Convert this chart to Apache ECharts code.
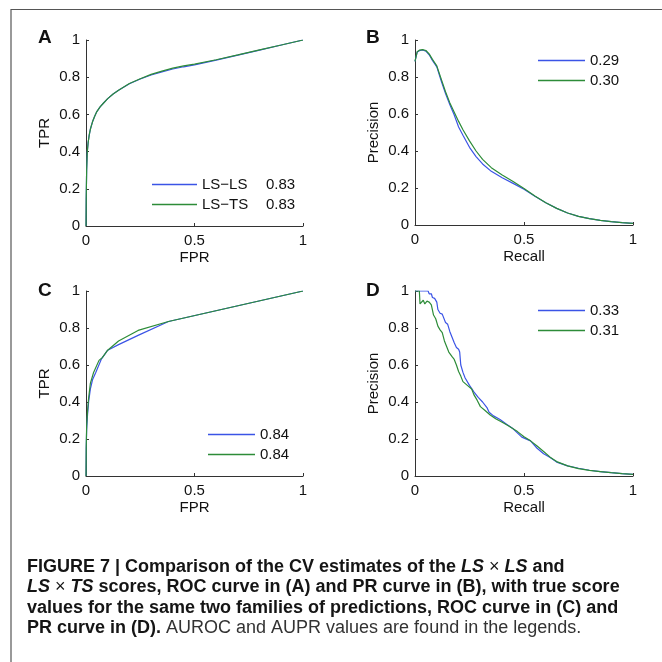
<!DOCTYPE html>
<html>
<head>
<meta charset="utf-8">
<script src="https://cdn.jsdelivr.net/npm/echarts@6/dist/echarts.min.js"></script>
<style>
  html, body { margin: 0; padding: 0; background: #fff; }
  #chart { width: 662px; height: 662px; }
</style>
</head>
<body>
<div id="chart"></div>
<script>
// ---- Panel A: ROC of the CV estimates ----
const rocA_fpr      = [0, 0.001, 0.003, 0.006, 0.01, 0.015, 0.02, 0.03, 0.04, 0.05, 0.065, 0.08, 0.1, 0.125, 0.15, 0.2, 0.25, 0.3, 0.35, 0.4, 0.45, 0.5, 0.6, 0.7, 0.8, 0.9, 1];
const rocA_tpr_lsls = [0, 0.15, 0.3, 0.4, 0.45, 0.49, 0.52, 0.56, 0.59, 0.615, 0.64, 0.66, 0.685, 0.71, 0.73, 0.765, 0.79, 0.812, 0.829, 0.844, 0.856, 0.866, 0.892, 0.919, 0.946, 0.973, 1];
const rocA_tpr_lsts = [0, 0.15, 0.3, 0.4, 0.45, 0.49, 0.52, 0.56, 0.59, 0.615, 0.64, 0.66, 0.685, 0.71, 0.73, 0.766, 0.792, 0.815, 0.833, 0.849, 0.861, 0.87, 0.894, 0.92, 0.947, 0.973, 1];

// ---- Panel B: PR of the CV estimates ----
const prB_recall    = [0, 0.01, 0.02, 0.035, 0.05, 0.065, 0.08, 0.1, 0.12, 0.14, 0.16, 0.18, 0.2, 0.22, 0.25, 0.28, 0.31, 0.35, 0.4, 0.45, 0.5, 0.55, 0.6, 0.65, 0.7, 0.75, 0.8, 0.85, 0.9, 0.95, 1];
const prB_prec_lsls = [0.885, 0.935, 0.942, 0.946, 0.94, 0.92, 0.89, 0.855, 0.78, 0.71, 0.65, 0.595, 0.53, 0.485, 0.42, 0.37, 0.33, 0.29, 0.255, 0.225, 0.193, 0.155, 0.12, 0.09, 0.065, 0.047, 0.034, 0.025, 0.018, 0.013, 0.009];
const prB_prec_lsts = [0.885, 0.937, 0.945, 0.948, 0.943, 0.925, 0.895, 0.86, 0.79, 0.72, 0.66, 0.61, 0.56, 0.515, 0.455, 0.4, 0.355, 0.31, 0.27, 0.235, 0.197, 0.157, 0.12, 0.09, 0.065, 0.047, 0.034, 0.025, 0.018, 0.013, 0.009];

// ---- Panel C: ROC with true scores ----
const rocC_fpr_lsls = [0, 0.001, 0.003, 0.007, 0.012, 0.02, 0.03, 0.045, 0.07, 0.1, 0.15, 0.24, 0.38, 1];
const rocC_tpr_lsls = [0, 0.15, 0.25, 0.33, 0.4, 0.47, 0.52, 0.56, 0.63, 0.68, 0.71, 0.76, 0.835, 1];
const rocC_fpr_lsts = [0, 0.001, 0.003, 0.007, 0.012, 0.02, 0.035, 0.06, 0.075, 0.1, 0.15, 0.24, 0.38, 1];
const rocC_tpr_lsts = [0, 0.15, 0.27, 0.35, 0.42, 0.5, 0.56, 0.625, 0.64, 0.68, 0.73, 0.787, 0.835, 1];

// ---- Panel D: PR with true scores ----
const prD_recall_lsls = [0, 0.06, 0.065, 0.075, 0.08, 0.09, 0.1, 0.105, 0.115, 0.125, 0.13, 0.14, 0.15, 0.16, 0.17, 0.18, 0.19, 0.2, 0.205, 0.21, 0.22, 0.23, 0.25, 0.27, 0.29, 0.31, 0.33, 0.34, 0.36, 0.39, 0.42, 0.45, 0.49, 0.53, 0.56, 0.59, 0.62, 0.65, 0.7, 0.75, 0.8, 0.85, 0.9, 0.95, 1];
const prD_prec_lsls   = [1, 1, 0.985, 0.985, 0.965, 0.96, 0.94, 0.9, 0.88, 0.875, 0.865, 0.83, 0.82, 0.78, 0.75, 0.72, 0.695, 0.685, 0.67, 0.6, 0.56, 0.53, 0.49, 0.455, 0.425, 0.4, 0.37, 0.345, 0.325, 0.305, 0.28, 0.255, 0.21, 0.19, 0.15, 0.12, 0.1, 0.075, 0.055, 0.042, 0.031, 0.024, 0.018, 0.013, 0.009];
const prD_recall_lsts = [0, 0.02, 0.023, 0.03, 0.038, 0.045, 0.055, 0.065, 0.075, 0.085, 0.095, 0.105, 0.115, 0.125, 0.135, 0.145, 0.155, 0.17, 0.18, 0.19, 0.2, 0.21, 0.22, 0.24, 0.26, 0.27, 0.285, 0.3, 0.32, 0.345, 0.37, 0.4, 0.43, 0.47, 0.5, 0.53, 0.56, 0.59, 0.62, 0.65, 0.7, 0.75, 0.8, 0.85, 0.9, 0.95, 1];
const prD_prec_lsts   = [1, 1, 0.93, 0.935, 0.95, 0.93, 0.945, 0.94, 0.925, 0.87, 0.85, 0.81, 0.79, 0.775, 0.73, 0.7, 0.67, 0.645, 0.63, 0.6, 0.565, 0.54, 0.51, 0.49, 0.47, 0.44, 0.41, 0.375, 0.355, 0.33, 0.31, 0.29, 0.27, 0.24, 0.212, 0.19, 0.162, 0.132, 0.102, 0.078, 0.055, 0.04, 0.03, 0.024, 0.018, 0.013, 0.009];

// ---- Legend texts (AUROC / AUPR) ----
const legendNamesA = ['LS\u2212LS', 'LS\u2212TS'];
const aucA = ['0.83', '0.83'];
const auprB = ['0.29', '0.30'];
const aucC = ['0.84', '0.84'];
const auprD = ['0.33', '0.31'];

// ---- Axis tick values ----
const yTickStep = 0.2;
const xTickStep = 0.5;

const panelLetters = ['A', 'B', 'C', 'D'];
const axisTitles = [['FPR', 'TPR'], ['Recall', 'Precision'], ['FPR', 'TPR'], ['Recall', 'Precision']];

const FONT = "'Liberation Sans', Arial, Helvetica, sans-serif";
const BLUE = '#3b54e6';
const GREEN = '#2d8c38';

const zip = (xs, ys) => xs.map((x, i) => [x, ys[i]]);

const grids = [
  { left: 86,  top: 40,  width: 217, height: 186 },
  { left: 415, top: 40,  width: 218, height: 185 },
  { left: 86,  top: 291, width: 217, height: 185 },
  { left: 415, top: 291, width: 218, height: 185 }
].map(g => Object.assign({ containLabel: false, outerBoundsMode: 'none' }, g));

function makeXAxis(i) {
  return {
    type: 'value', gridIndex: i, min: 0, max: 1, interval: xTickStep,
    name: axisTitles[i][0], nameLocation: 'middle', nameGap: 24, nameMoveOverlap: false,
    nameTextStyle: { fontFamily: FONT, fontSize: 15, color: '#111' },
    axisLine: { show: true, onZero: false, lineStyle: { color: '#333', width: 1 } },
    axisTick: { show: true, inside: true, length: 3, lineStyle: { color: '#333' } },
    axisLabel: { fontFamily: FONT, fontSize: 15, color: '#111', margin: 7 },
    splitLine: { show: false }
  };
}
function makeYAxis(i) {
  return {
    type: 'value', gridIndex: i, min: 0, max: 1, interval: yTickStep,
    name: axisTitles[i][1], nameLocation: 'middle', nameGap: 34, nameMoveOverlap: false,
    nameTextStyle: { fontFamily: FONT, fontSize: 15, color: '#111' },
    axisLine: { show: true, onZero: false, lineStyle: { color: '#333', width: 1 } },
    axisTick: { show: true, inside: true, length: 3, lineStyle: { color: '#333' } },
    axisLabel: { fontFamily: FONT, fontSize: 15, color: '#111', margin: 6 },
    splitLine: { show: false }
  };
}

function curve(id, idx, color, data) {
  return {
    type: 'line', name: id, xAxisIndex: idx, yAxisIndex: idx,
    data: data, symbol: 'none', showSymbol: false, smooth: false,
    lineStyle: { color: color, width: 1.2 }, itemStyle: { color: color },
    emphasis: { disabled: true }, silent: true
  };
}

const series = [
  curve('A1', 0, BLUE,  zip(rocA_fpr, rocA_tpr_lsls)),
  curve('A2', 0, GREEN, zip(rocA_fpr, rocA_tpr_lsts)),
  curve('B1', 1, BLUE,  zip(prB_recall, prB_prec_lsls)),
  curve('B2', 1, GREEN, zip(prB_recall, prB_prec_lsts)),
  curve('C1', 2, BLUE,  zip(rocC_fpr_lsls, rocC_tpr_lsls)),
  curve('C2', 2, GREEN, zip(rocC_fpr_lsts, rocC_tpr_lsts)),
  curve('D1', 3, BLUE,  zip(prD_recall_lsls, prD_prec_lsls)),
  curve('D2', 3, GREEN, zip(prD_recall_lsts, prD_prec_lsts))
];

const legendText = {
  A1: '{n|' + legendNamesA[0] + '}{v|' + aucA[0] + '}',
  A2: '{n|' + legendNamesA[1] + '}{v|' + aucA[1] + '}',
  B1: '{v|' + auprB[0] + '}', B2: '{v|' + auprB[1] + '}',
  C1: '{v|' + aucC[0] + '}',  C2: '{v|' + aucC[1] + '}',
  D1: '{v|' + auprD[0] + '}', D2: '{v|' + auprD[1] + '}'
};
const legendRich = {
  n: { fontFamily: FONT, fontSize: 15, color: '#111', width: 64 },
  v: { fontFamily: FONT, fontSize: 15, color: '#111' }
};
function makeLegend(names, left, top, w) {
  return {
    data: names, orient: 'vertical', left: left, top: top, padding: 0,
    itemGap: 5, itemWidth: w, itemHeight: 1.5, icon: 'rect',
    selectedMode: false,
    formatter: name => legendText[name],
    textStyle: { fontFamily: FONT, fontSize: 15, color: '#111', rich: legendRich }
  };
}

const letterPos = [[38, 28], [366, 28], [38, 281], [366, 281]];
const titles = panelLetters.map((t, i) => ({
  text: t, left: letterPos[i][0], top: letterPos[i][1], padding: 0,
  textStyle: { fontFamily: FONT, fontSize: 19, fontWeight: 'bold', color: '#111' }
}));

// caption styles
const capRich = {
  b:  { fontFamily: FONT, fontSize: 18, fontWeight: 'bold', fill: '#151515' },
  bi: { fontFamily: FONT, fontSize: 18, fontWeight: 'bold', fontStyle: 'italic', fill: '#151515' },
  x:  { fontFamily: FONT, fontSize: 18, fill: '#151515' },
  r:  { fontFamily: FONT, fontSize: 18, fill: '#333' }
};
const captionLines = [
  '{b|FIGURE 7 | Comparison of the CV estimates of the }{bi|LS}{x| \u00d7 }{bi|LS}{b| and}',
  '{bi|LS}{x| \u00d7 }{bi|TS}{b| scores, ROC curve in (A) and PR curve in (B), with true score}',
  '{b|values for the same two families of predictions, ROC curve in (C) and}',
  '{b|PR curve in (D).}{r| AUROC and AUPR values are found in the legends.}'
];
const captionY = [567, 587, 608, 628];

const graphics = [
  { type: 'line', shape: { x1: 11, y1: 9.5, x2: 662, y2: 9.5 }, style: { stroke: '#555', lineWidth: 1.2 }, silent: true },
  { type: 'line', shape: { x1: 11, y1: 9, x2: 11, y2: 662 }, style: { stroke: '#555', lineWidth: 1.2 }, silent: true }
].concat(captionLines.map((t, i) => ({
  type: 'text', x: 27, y: captionY[i], silent: true,
  style: { text: t, rich: capRich, verticalAlign: 'middle', align: 'left', fontFamily: FONT, fontSize: 18 }
})));

const chart = echarts.init(document.getElementById('chart'), null, { renderer: 'canvas' });
chart.setOption({
  animation: false,
  backgroundColor: '#fff',
  title: titles,
  grid: grids,
  xAxis: [0, 1, 2, 3].map(makeXAxis),
  yAxis: [0, 1, 2, 3].map(makeYAxis),
  legend: [
    makeLegend(['A1', 'A2'], 152, 177, 45),
    makeLegend(['B1', 'B2'], 538, 53, 47),
    makeLegend(['C1', 'C2'], 208, 427, 47),
    makeLegend(['D1', 'D2'], 538, 303, 47)
  ],
  series: series,
  graphic: graphics
});
</script>
</body>
</html>
